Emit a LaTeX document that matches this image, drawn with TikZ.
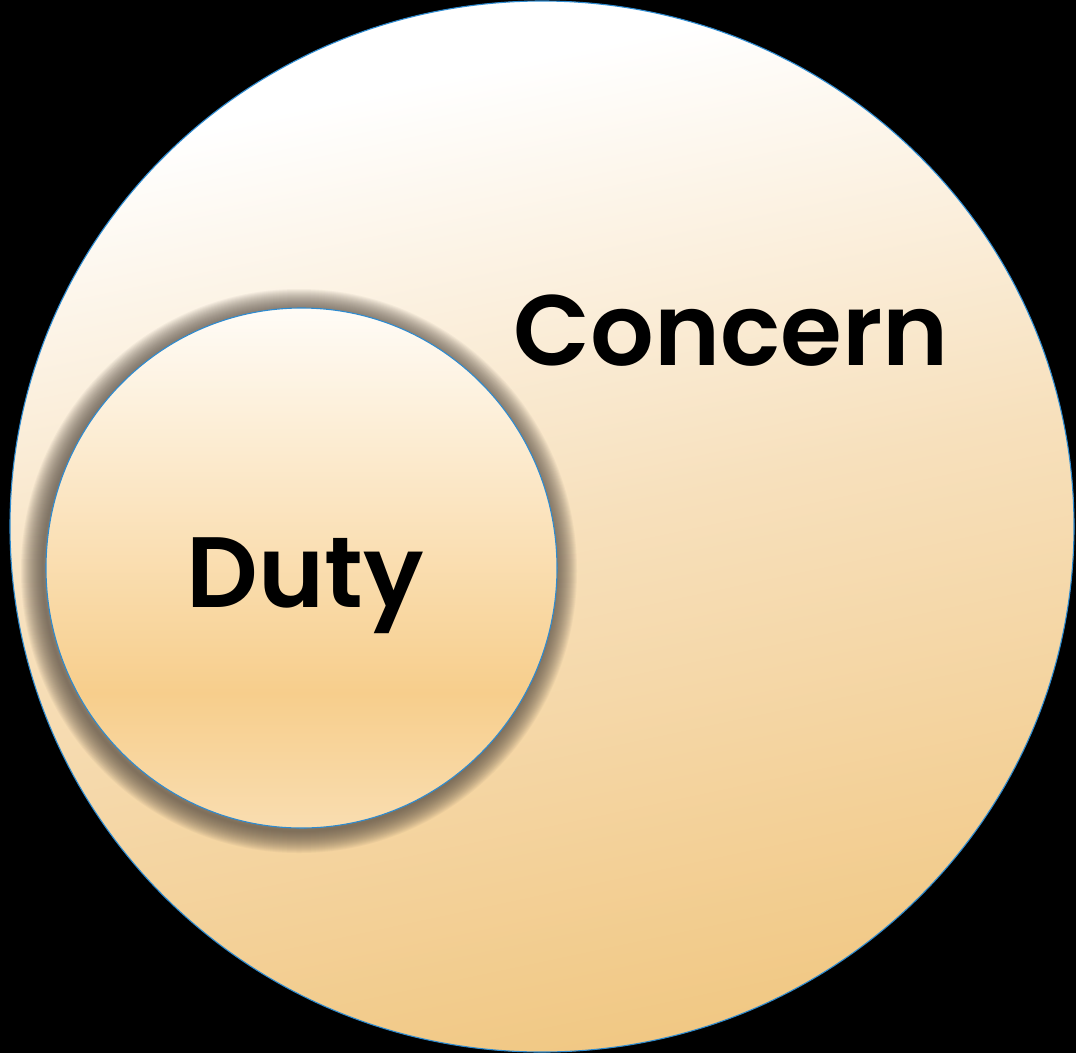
\documentclass[tikz,border=0pt]{standalone}
\usepackage{fontspec}
\setmainfont{Poppins}[BoldFont={Poppins SemiBold}]
\definecolor{rimblue}{HTML}{2E8BD0}
\definecolor{shadowcol}{HTML}{5A5046}
\definecolor{osbot}{HTML}{F1C884}
\definecolor{osmid}{HTML}{F7E0BC}
\definecolor{istop}{HTML}{FFFCF7}
\definecolor{ismid}{HTML}{F7CE8C}
\definecolor{isbot}{HTML}{F9DDB0}
\pgfdeclareverticalshading{outerfill}{100bp}{color(0bp)=(osbot); color(25bp)=(osbot); color(50bp)=(osmid); color(72bp)=(white); color(100bp)=(white)}
\pgfdeclareverticalshading{innerfill}{100bp}{color(0bp)=(isbot); color(25bp)=(isbot); color(38bp)=(ismid); color(75bp)=(istop); color(100bp)=(istop)}
\tikzset{
  rim/.style={draw=rimblue, line width=1.1pt},
  label/.style={font=\bfseries\fontsize{100}{104}\selectfont, text=black, inner sep=0pt, anchor=base}
}
\begin{document}
\begin{tikzpicture}[x=1pt,y=-1pt]
\fill[black] (0,0) rectangle (1076,1053);
\useasboundingbox (0,0) rectangle (1076,1053);
% outer circle
\shade[shading=outerfill, shading angle=12] (542,526.5) ellipse [x radius=532, y radius=525.5];
\draw[rim] (542,526.5) ellipse [x radius=532, y radius=525.5];
\node (outer) at (542,526.5) {};
% shadow glow
\foreach \k in {1,...,22} {
  \draw[shadowcol, opacity=0.055, line width=2*\k pt] (299,571) ellipse [x radius=256, y radius=260];
}
% inner circle
\shade[shading=innerfill] (301.5,568) ellipse [x radius=255.5, y radius=260];
\draw[rim] (301.5,568) ellipse [x radius=255.5, y radius=260];
\node[label] (concern) at (731,365) {Concern};
\node[label] (duty) at (305,607) {Duty};
\end{tikzpicture}
\end{document}
